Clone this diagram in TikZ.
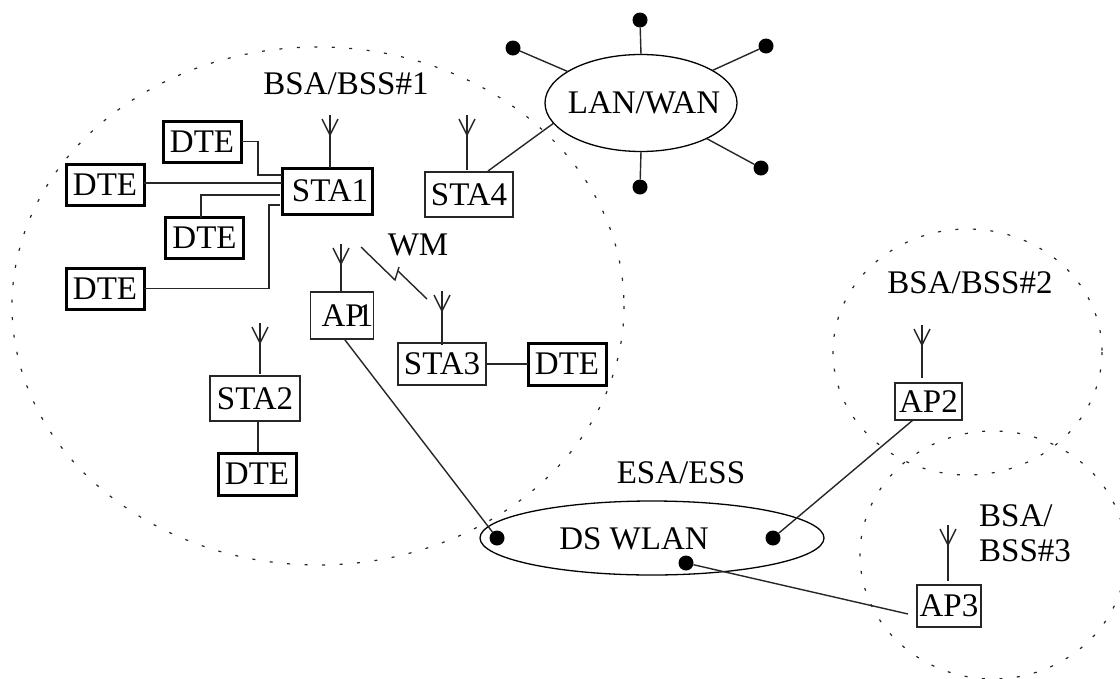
\documentclass[tikz,border=0pt]{standalone}
\usepackage{fontspec}
\setmainfont{Liberation Serif}
\usetikzlibrary{shapes.geometric,calc}
\tikzset{
  x=1pt,y=-1pt,
  thinbox/.style={draw=black!85,line width=1.5pt,inner sep=0pt,outer sep=0pt,font=\fontsize{33}{36}\selectfont},
  thickbox/.style={thinbox,draw=black,line width=3pt},
  lab/.style={inner sep=0pt,font=\fontsize{33}{35}\selectfont},
  conn/.style={draw=black!85,line width=1.4pt},
  area/.style={draw=black!85,line width=1.2pt,dash pattern=on 3pt off 14.5pt},
  blob/.style={ellipse,draw=black,line width=1.3pt,inner sep=0pt,outer sep=0pt},
  dot/.style={circle,fill=black,inner sep=0pt,minimum size=15pt},
  pics/antenna/.style={code={
    \draw[conn] (-8,-16)--(0,0)--(8,-16);
    \draw[conn] (0,-20)--(0,0);
  }},
}
\newcommand{\bx}[6]{\node[#1,minimum width=#4pt,minimum height=#5pt] (#2) at (#3) {#6};}
\begin{document}
\begin{tikzpicture}
\useasboundingbox (0,0) rectangle (1120,678);
% coverage areas
\draw[area] (318,306) ellipse [x radius=306,y radius=259];
\draw[area] (967.5,352) ellipse [x radius=134.5,y radius=123];
\draw[area] (993,555) ellipse [x radius=133,y radius=124];
% clouds
\node[blob,minimum width=192pt,minimum height=97pt] (lan) at (641,103) {};
\node[lab] (lant) at (644,103) {LAN/WAN};
\node[blob,minimum width=344pt,minimum height=74pt] (ds) at (652,538) {};
% boxes
\bx{thickbox}{dtea}{202,141.5}{78}{41}{DTE}
\bx{thickbox}{dteb}{105,184.5}{78}{41}{DTE}
\bx{thickbox}{dtec}{204.5,238}{78}{41}{DTE}
\bx{thickbox}{dted}{105,288.5}{78}{41}{DTE}
\bx{thickbox}{staa}{327,191}{90}{46}{\hspace*{6pt}STA1}
\bx{thinbox}{stad}{469,194.5}{88}{45}{STA4}
\bx{thinbox}{apa}{342,315.5}{62}{47}{\hspace*{11pt}AP\kern-7pt 1}
\bx{thinbox}{stac}{442,364}{88}{42}{STA3}
\bx{thickbox}{dtee}{567,364}{78}{42}{DTE}
\bx{thinbox}{stab}{255,398.5}{90}{45}{STA2}
\bx{thickbox}{dtef}{257,474}{78}{42}{DTE}
\bx{thinbox}{apb}{928.5,401.5}{67}{37}{AP2}
\bx{thinbox}{apc}{949,606}{64}{42}{AP3}
% labels
\node[lab] (bssa) at (346,84) {BSA/BSS\#1};
\node[lab] (bssb) at (970,283) {BSA/BSS\#2};
\node[lab,align=left,anchor=west] (bssc) at (979,533) {BSA/\\BSS\#3};
\node[lab] (esa) at (681,473) {ESA/ESS};
\node[lab] (dsl) at (634,539) {DS WLAN};
\node[lab] (wm) at (418,245) {WM};
% antennas
\coordinate (anta) at (330,135);
\coordinate (antd) at (467,135);
\coordinate (antp) at (341,264);
\coordinate (antc) at (442,311);
\coordinate (antb) at (260,343);
\coordinate (antq) at (922,345);
\coordinate (antr) at (948,545);
\foreach \a in {anta,antd,antp,antc,antb,antq,antr} \pic at (\a) {antenna};
\draw[conn] (staa.north-|anta) -- (anta);
\draw[conn,shorten <=2pt] (stad.north-|antd) -- (antd);
\draw[conn] (apa.north-|antp) -- (antp);
\draw[conn,shorten <=-2pt] (stac.north-|antc) -- (antc);
\draw[conn,shorten <=2pt] (stab.north-|antb) -- (antb);
\draw[conn,shorten <=5pt] (apb.north-|antq) -- (antq);
\draw[conn,shorten <=4pt] (apc.north-|antr) -- (antr);
% DTE wiring to STA1
\coordinate (ea) at (282,175);
\coordinate (eb) at (282,183);
\coordinate (ec) at (280,195);
\coordinate (ed) at (280,205);
\draw[conn] (dtea.east) -| (258,175) -- (ea);
\draw[conn] (dteb.east|-eb) -- (eb);
\draw[conn] (dtec.north-|201,0) |- (ec);
\draw[conn] (dted.east) -| (269,205) -- (ed);
\draw[conn] (stac.east) -- (dtee.west);
\draw[conn] (dtef.north-|258,0) -- (stab.south-|258,0);
% wireless link
\coordinate (wa) at (361,247);
\coordinate (wb) at (427,299);
\draw[conn] (wa) -- (395,280) -- (399,267);
\draw[conn] (398,271) -- (wb);
% LAN stubs
\node[dot] (la) at (640,20) {};
\node[dot] (lb) at (513,48) {};
\node[dot] (lc) at (766,46) {};
\node[dot] (ld) at (761,168) {};
\node[dot] (le) at (640,187) {};
\draw[conn] (la) -- (lan.north);
\draw[conn] (lb) -- (lan);
\draw[conn] (lc) -- (lan);
\draw[conn] (ld) -- (lan);
\draw[conn] (le) -- (lan.south);
\coordinate (sf) at (488,171);
\draw[conn] (sf) -- (lan.193);
% DS links
\node[dot] (da) at (497,538) {};
\node[dot] (db) at (773,538) {};
\node[dot] (dc) at (686,563) {};
\coordinate (ae) at (345,340);
\coordinate (be) at (913,420);
\coordinate (ce) at (908,614);
\draw[conn] (ae) -- (da);
\draw[conn] (be) -- (db);
\draw[conn] (ce) -- (dc);
\end{tikzpicture}
\end{document}
